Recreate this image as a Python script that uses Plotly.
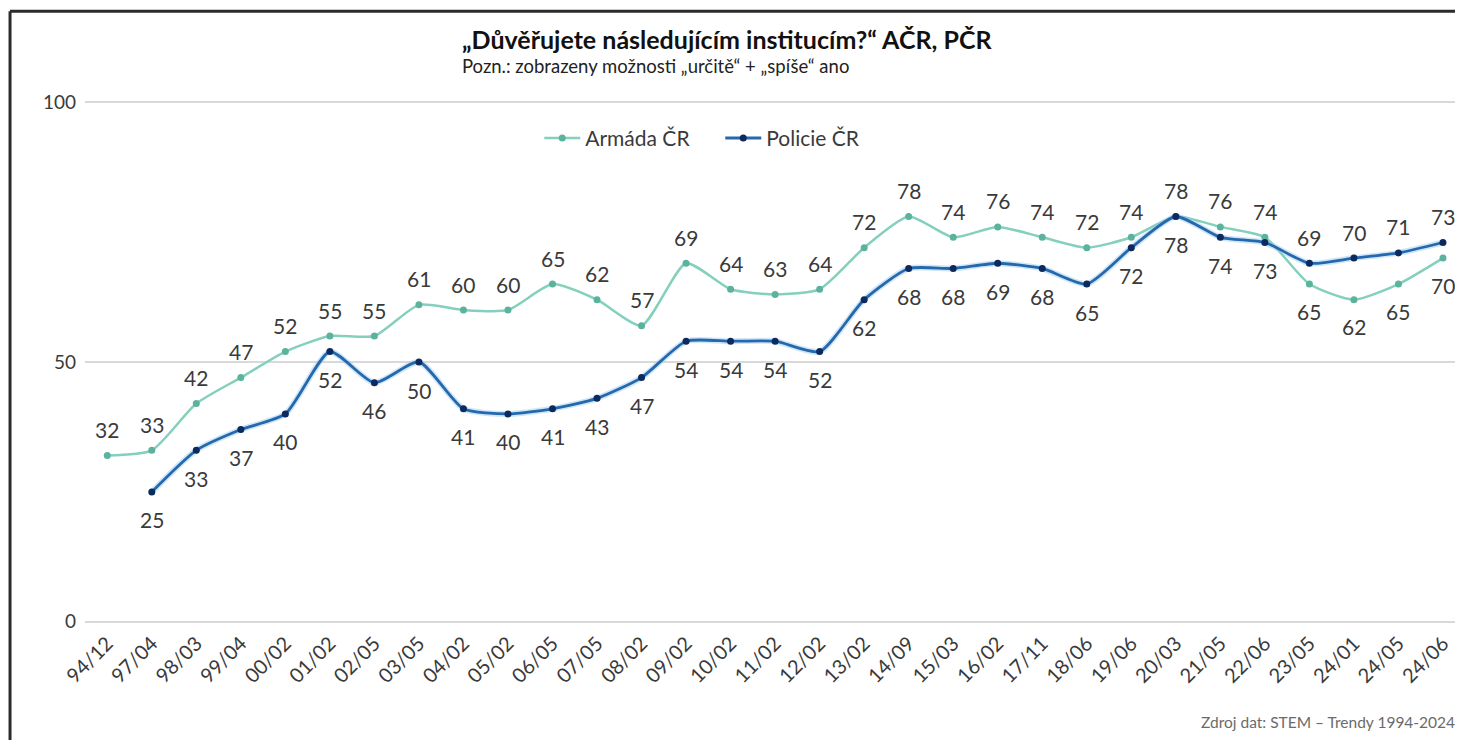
import plotly.graph_objects as go

categories = ["94/12", "97/04", "98/03", "99/04", "00/02", "01/02", "02/05", "03/05", "04/02",
              "05/02", "06/05", "07/05", "08/02", "09/02", "10/02", "11/02", "12/02", "13/02",
              "14/09", "15/03", "16/02", "17/11", "18/06", "19/06", "20/03", "21/05", "22/06",
              "23/05", "24/01", "24/05", "24/06"]
armada = [32, 33, 42, 47, 52, 55, 55, 61, 60, 60, 65, 62, 57, 69, 64, 63, 64, 72, 78, 74, 76,
          74, 72, 74, 78, 76, 74, 65, 62, 65, 70]
policie = [None, 25, 33, 37, 40, 52, 46, 50, 41, 40, 41, 43, 47, 54, 54, 54, 52, 62, 68, 68, 69,
           68, 65, 72, 78, 74, 73, 69, 70, 71, 73]
y_ticks = [0, 50, 100]

FONT = "Lato"
TXT = "#3a3a3a"
ARM_LINE = "#84d0bd"
ARM_MARK = "#5cb39d"
POL_LINE = "#2468ad"
POL_MARK = "#0d2a5e"

fig = go.Figure()
fig.add_trace(go.Scatter(
    x=categories, y=armada, name="Armáda ČR", mode="lines+markers",
    line=dict(color=ARM_LINE, width=2.5, shape="spline", smoothing=0.6),
    marker=dict(color=ARM_MARK, size=7),
))
# soft halo under police line
fig.add_trace(go.Scatter(
    x=categories, y=policie, mode="lines", showlegend=False, hoverinfo="skip",
    line=dict(color="rgba(150,200,240,0.45)", width=6, shape="spline", smoothing=0.6),
))
fig.add_trace(go.Scatter(
    x=categories, y=policie, name="Policie ČR", mode="lines+markers",
    line=dict(color=POL_LINE, width=2.8, shape="spline", smoothing=0.6),
    marker=dict(color=POL_MARK, size=7),
))

annotations = []
for i, c in enumerate(categories):
    a = armada[i]
    p = policie[i]
    a_above = p is None or a >= p
    annotations.append(dict(x=c, y=a, text=str(a), showarrow=False,
                             yshift=26 if a_above else -27,
                             font=dict(family=FONT, size=21, color=TXT)))
    if p is not None:
        p_above = p > a
        annotations.append(dict(x=c, y=p, text=str(p), showarrow=False,
                                yshift=26 if p_above else -28,
                                font=dict(family=FONT, size=21, color=TXT)))

annotations.append(dict(xref="paper", yref="paper", x=0.272, y=1.058, xanchor="left",
                        yanchor="middle", showarrow=False,
                        text="Pozn.: zobrazeny možnosti „určitě“ + „spíše“ ano",
                        font=dict(family=FONT, size=18.5, color="#222")))
annotations.append(dict(xref="paper", yref="paper", x=0.996, y=-0.179, xanchor="right",
                        yanchor="middle", showarrow=False,
                        text="Zdroj dat: STEM – Trendy 1994-2024",
                        font=dict(family=FONT, size=15.5, color="#6b6b6b")))

# page body has an 8px margin; figure is sized so it fits the 1463x740 window
W, H = 1455, 732
fig.update_layout(
    width=W, height=H,
    margin=dict(l=77, r=0, t=89, b=113),
    paper_bgcolor="white", plot_bgcolor="white",
    font=dict(family=FONT, color=TXT),
    title=dict(text="<b>„Důvěřujete následujícím institucím?“ AČR, PČR</b>",
               x=0.494, xref="container", xanchor="center",
               y=1 - 32 / H, yref="container", yanchor="middle",
               font=dict(family=FONT, size=25, color="#111")),
    legend=dict(orientation="h", x=0.461, xanchor="center", y=0.922, yanchor="middle",
                font=dict(family=FONT, size=21, color=TXT), bgcolor="rgba(0,0,0,0)",
                itemwidth=36, entrywidth=130, entrywidthmode="pixels"),
    showlegend=True,
    annotations=annotations,
    shapes=[
        dict(type="line", xref="paper", yref="paper", x0=-0.0544, x1=-0.0544, y0=-0.25, y1=1.1617,
             line=dict(color="#2b2b2b", width=3)),
        dict(type="line", xref="paper", yref="paper", x0=-0.0544, x1=1.05, y0=1.1617, y1=1.1617,
             line=dict(color="#2b2b2b", width=3)),
    ],
)
fig.update_xaxes(type="category", range=[-0.5, 30.45], tickangle=-45,
                 tickfont=dict(family=FONT, size=20, color=TXT), showgrid=False,
                 showline=False, zeroline=False, ticks="")
fig.update_yaxes(range=[-1, 101], tickvals=y_ticks, showgrid=True, gridcolor="#d9d9d9",
                 gridwidth=1.5, zeroline=False, showline=False,
                 tickfont=dict(family=FONT, size=19, color=TXT), ticklabelstandoff=8)

fig.write_html("out.html")
